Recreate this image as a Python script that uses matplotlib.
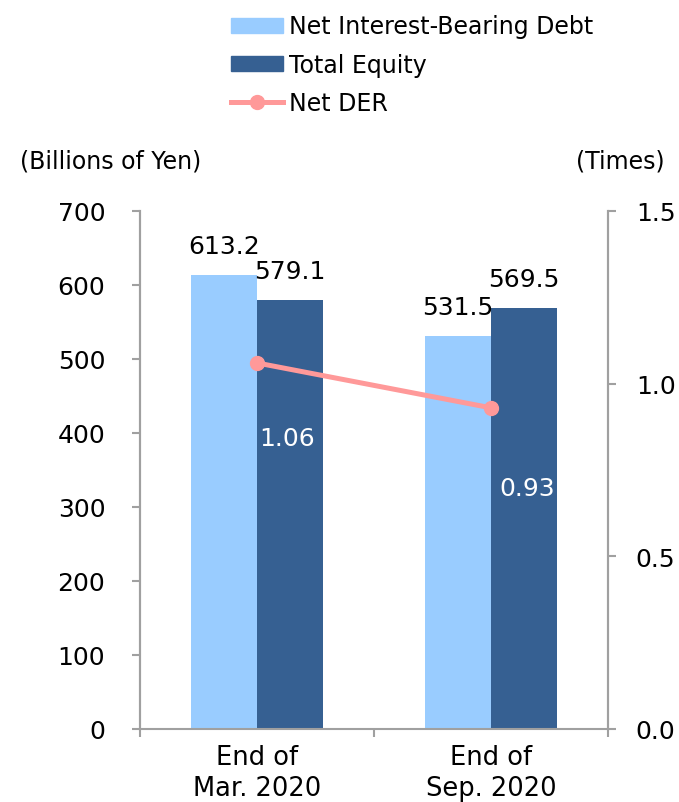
import matplotlib
matplotlib.use("Agg")
import matplotlib.pyplot as plt
from matplotlib.patches import Patch
from matplotlib.lines import Line2D

plt.rcParams['font.family'] = ['DejaVu Sans']

# Data
categories = ["End of\nMar. 2020", "End of\nSep. 2020"]
net_debt = [613.2, 531.5]
total_equity = [579.1, 569.5]
net_der = [1.06, 0.93]
left_ticks = [0, 100, 200, 300, 400, 500, 600, 700]
right_ticks = [0.0, 0.5, 1.0, 1.5]

c_debt = "#99CCFF"
c_equity = "#366092"
c_der = "#FF9999"
c_axis = "#A0A0A0"

W, H = 679, 803
fig = plt.figure(figsize=(W/100, H/100), dpi=100)
ax = fig.add_axes([140/W, 73/H, 468/W, 518/H])
ax2 = ax.twinx()

x = list(range(len(categories)))
w = 0.28
bars1 = ax.bar([i - w/2 for i in x], net_debt, width=w, color=c_debt, zorder=2)
bars2 = ax.bar([i + w/2 for i in x], total_equity, width=w, color=c_equity, zorder=2)

ax.set_xlim(-0.5, 1.5)
ax.set_ylim(0, 700)
ax.set_yticks(left_ticks)
ax.set_yticklabels([str(t) for t in left_ticks], fontsize=18)
ax.set_xticks(x)
ax.set_xticklabels(categories, fontsize=18.5, linespacing=1.25)
ax.tick_params(axis='x', which='major', length=0, pad=11)
ax.set_xticks([-0.5, 0.5, 1.5], minor=True)
ax.tick_params(axis='x', which='minor', length=6, width=1.5, color=c_axis)
ax.tick_params(axis='y', length=6, width=1.5, color=c_axis, pad=19)

ax2.set_ylim(0, 1.5)
ax2.set_yticks(right_ticks)
ax2.set_yticklabels([f"{t:.1f}" for t in right_ticks], fontsize=18)
ax2.tick_params(axis='y', length=6, width=1.5, color=c_axis, pad=14)

for a in (ax, ax2):
    a.spines['top'].set_visible(False)
    for s in ('left', 'right', 'bottom'):
        a.spines[s].set_color(c_axis)
        a.spines[s].set_linewidth(1.5)
ax2.spines['bottom'].set_visible(False)

# bar value labels
for bars, vals in ((bars1, net_debt), (bars2, total_equity)):
    for b, v in zip(bars, vals):
        ax.annotate(f"{v:.1f}", (b.get_x() + b.get_width()/2, v), xytext=(0, 22),
                    textcoords='offset pixels', ha='center', va='baseline', fontsize=18)

# Net DER line
ax2.plot(x, net_der, color=c_der, lw=3.6, marker='o', ms=10, zorder=3)
ax.set_zorder(1)
ax2.set_zorder(2)
ax.patch.set_visible(False)
offs = [(30, -82), (36, -87)]
for xi, v, o in zip(x, net_der, offs):
    ax2.annotate(f"{v:.2f}", (xi, v), xytext=o, textcoords='offset pixels',
                 ha='center', va='baseline', fontsize=18, color='white')

# axis unit captions
fig.text(20/W, 1 - 162/H, "(Billions of Yen)", fontsize=17, ha='left', va='center')
fig.text(665/W, 1 - 162/H, "(Times)", fontsize=17, ha='right', va='center')

handles = [Patch(color=c_debt), Patch(color=c_equity),
           Line2D([], [], color=c_der, lw=3.6, marker='o', ms=10)]
labels = ["Net Interest-Bearing Debt", "Total Equity", "Net DER"]
fig.legend(handles, labels, loc='upper left', bbox_to_anchor=(222/W, 1 - 6/H),
           frameon=False, fontsize=17, handlelength=2.2, handleheight=0.6,
           handletextpad=0.25, labelspacing=0.6, borderaxespad=0)

fig.savefig("out.png", dpi=100)
